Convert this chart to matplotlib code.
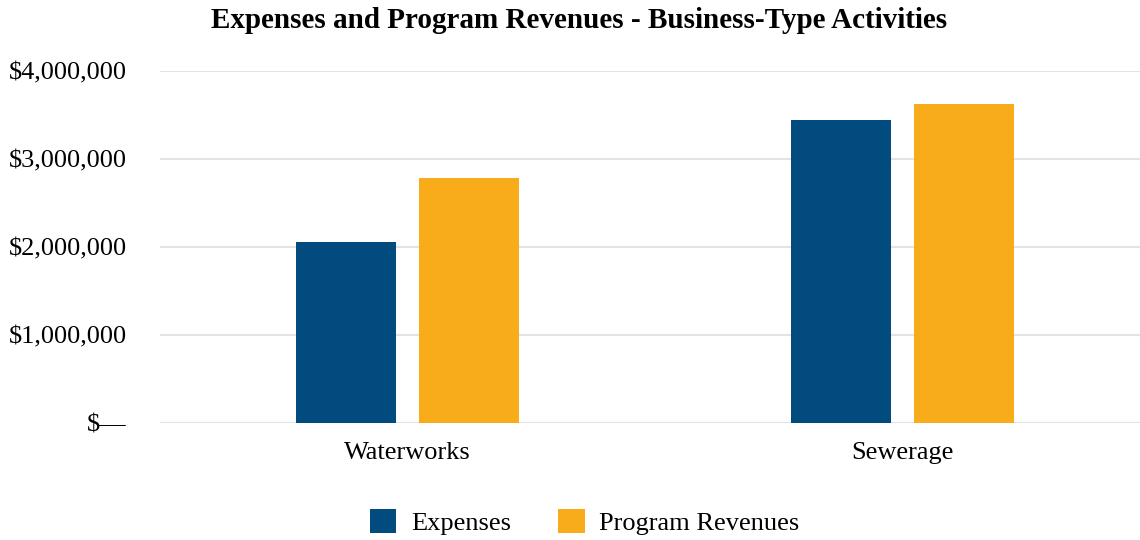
import matplotlib.pyplot as plt
import numpy as np
from matplotlib.ticker import FuncFormatter

# Data
categories = ['Waterworks', 'Sewerage']
expenses = [2057000, 3443000]
program_revenues = [2784000, 3625000]
y_ticks = [0, 1000000, 2000000, 3000000, 4000000]

plt.rcParams['font.family'] = ['Liberation Serif', 'DejaVu Serif']

blue = '#024b7e'
orange = '#f9ac1a'

fig = plt.figure(figsize=(11.4, 5.4), dpi=100)
ax = fig.add_axes([0.1404, 0.2167, 0.8596, 0.6518])

x = np.arange(len(categories))
w = 0.202
off = 0.124
ax.bar(x - off, expenses, w, color=blue, label='Expenses', zorder=3)
ax.bar(x + off, program_revenues, w, color=orange, label='Program Revenues', zorder=3)

ax.set_xlim(-0.5, 1.48)
ax.set_ylim(0, 4000000)
ax.set_yticks(y_ticks)


def money(v, pos):
    if v == 0:
        return '$\u2014'
    return '${:,.0f}'.format(v)


ax.yaxis.set_major_formatter(FuncFormatter(money))
ax.set_xticks(x)
ax.set_xticklabels(categories)
ax.tick_params(axis='y', length=0, pad=24, labelsize=19)
ax.tick_params(axis='x', length=0, pad=14, labelsize=19)
ax.grid(axis='y', color='#e3e3e3', linewidth=1.5, zorder=0)
for s in ax.spines.values():
    s.set_visible(False)

fig.text(0.508, 0.962, 'Expenses and Program Revenues - Business-Type Activities',
         ha='center', va='center', fontsize=21, fontweight='bold')

fig.legend(loc='center', bbox_to_anchor=(0.513, 0.033), ncol=2, frameon=False,
           fontsize=19, handlelength=1.0, handleheight=1.0, columnspacing=1.8,
           handletextpad=0.55)

plt.savefig('out.png', dpi=100)
